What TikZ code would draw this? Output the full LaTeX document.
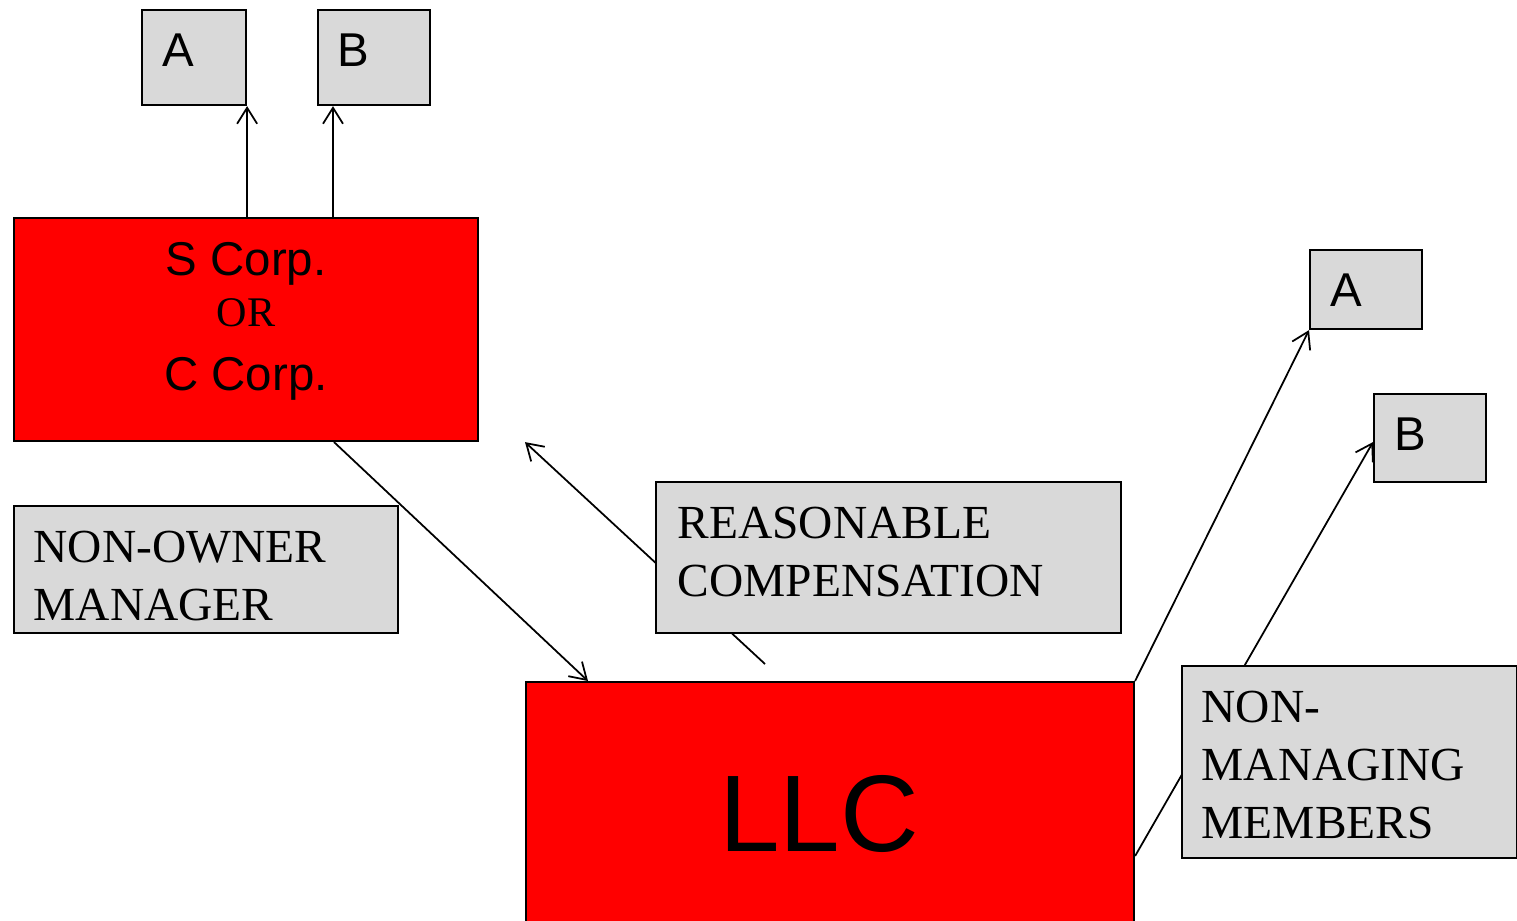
\documentclass[tikz,border=0pt]{standalone}
\usepackage{fontspec}
\setmainfont{Liberation Serif}
\setsansfont{Liberation Sans}
\usetikzlibrary{positioning, arrows.meta}
\definecolor{boxgray}{HTML}{D9D9D9}
\tikzset{
  plain box/.style={draw, line width=0.6pt, fill=boxgray, anchor=north west, inner sep=0pt},
  red box/.style={plain box, fill=red},
  box text/.style={anchor=north west, inner sep=0pt, align=left, font=\fontsize{13.5}{16.5}\selectfont},
  letter/.style={box text, font=\sffamily\fontsize{13.5}{16.5}\selectfont},
  link/.style={line width=0.5pt, -{Straight Barb[length=1.6mm, width=2mm]}},
}

\begin{document}
\begin{tikzpicture}[x=0.1mm, y=-0.1mm]
  \useasboundingbox (0,0) rectangle (1517,920);
  % Owners on top
  \node[plain box, minimum width=10.4mm, minimum height=9.5mm] (A1) at (141,9) {};
  \node[letter] (A1text) at ([shift={(21,16)}]A1.north west) {\strut A};
  \node[plain box, minimum width=11.2mm, minimum height=9.5mm] (B1) at (317,9) {};
  \node[letter] (B1text) at ([shift={(20,16)}]B1.north west) {\strut B};
  % Corporation
  \node[red box, minimum width=46.4mm, minimum height=22.3mm] (SC) at (13,217) {};
  \node[align=center, font=\sffamily\fontsize{13.5}{16.5}\selectfont] (SCtext) at ([yshift=0.8mm]SC.center)
        {S Corp.\\[-0.7mm]{\rmfamily\fontsize{12}{14}\selectfont OR}\\[0.6mm]C Corp.};
  \node[plain box, minimum width=38.4mm, minimum height=12.7mm] (NOM) at (13,505) {};
  \node[box text] (NOMtext) at ([shift={(20,16)}]NOM.north west) {\strut NON-OWNER\\MANAGER};
  % LLC and its members
  \node[red box, minimum width=60.8mm, minimum height=26.4mm] (LLC) at (525,681) {};
  \node[font=\sffamily\fontsize{31}{36}\selectfont] (LLCtext) at ([xshift=-1.1mm]LLC.center) {LLC};
  \node[plain box, minimum width=11.2mm, minimum height=7.9mm] (A2) at (1309,249) {};
  \node[letter] (A2text) at ([shift={(21,16)}]A2.north west) {\strut A};
  \node[plain box, minimum width=11.2mm, minimum height=8.8mm] (B2) at (1373,393) {};
  \node[letter] (B2text) at ([shift={(21,16)}]B2.north west) {\strut B};
  % Paths
  \coordinate (paystart) at (765,664);
  \coordinate (payend) at (LLC.west |- SC.south);
  \draw[link] (A1.south east |- SC.north) -- (A1.south east);
  \draw[link] ([xshift=1.6mm]B1.south west |- SC.north) -- ([xshift=1.6mm]B1.south west);
  \draw[link] ([xshift=8.8mm]SC.south) -- ([xshift=6.3mm]LLC.north west);
  \draw[link] (paystart) -- (payend);
  \draw[link] (LLC.north east) -- (A2.south west);
  \draw[link] ([yshift=-17.5mm]LLC.north east) -- ([yshift=-0.4mm]B2.west);
  % Labels over the paths
  \node[plain box, minimum width=46.5mm, minimum height=15.1mm] (RC) at (655,481) {};
  \node[box text] (RCtext) at ([shift={(22,16)}]RC.north west) {\strut REASONABLE\\COMPENSATION};
  \node[plain box, minimum width=33.5mm, minimum height=19.2mm] (NMM) at (1181,665) {};
  \node[box text] (NMMtext) at ([shift={(20,16)}]NMM.north west) {\strut NON-\\MANAGING\\MEMBERS};
\end{tikzpicture}
\end{document}
